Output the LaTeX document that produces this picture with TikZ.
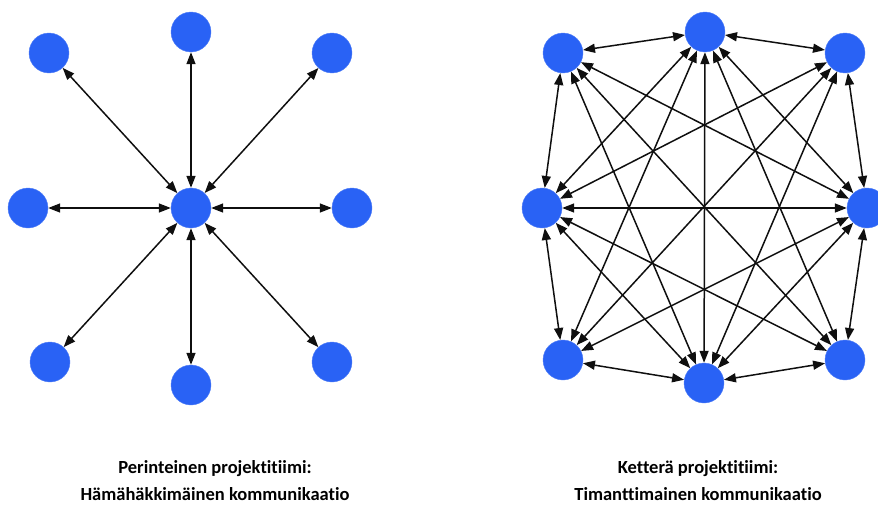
\documentclass[tikz,border=0pt]{standalone}
\usepackage{fontspec}
\setmainfont{Carlito}[Ligatures=NoCommon]
\usetikzlibrary{arrows.meta}
\definecolor{nodeblue}{RGB}{41,98,245}
\definecolor{edgeblack}{RGB}{15,15,15}
\tikzset{
  person/.style={circle, fill=nodeblue, draw=nodeblue!80!white, line width=0.4pt, minimum size=40pt, inner sep=0pt},
  link/.style={edgeblack, line width=1.5pt, {Triangle[length=12pt,width=9pt]}-{Triangle[length=12pt,width=9pt]}},
  caption/.style={font=\fontsize{18.5}{27}\selectfont\bfseries, align=center, text=black}
}
\begin{document}
\begin{tikzpicture}[x=1pt,y=-1pt]
\useasboundingbox (0,0) rectangle (878,522);
% left: spider
\node[person] (c) at (191,208) {};
\node[person] (lt) at (191,32) {};
\node[person] (ltl) at (49,53) {};
\node[person] (ltr) at (332,53) {};
\node[person] (ll) at (28,208) {};
\node[person] (lr) at (352,208) {};
\node[person] (lbl) at (50,362) {};
\node[person] (lb) at (191,385) {};
\node[person] (lbr) at (332,362) {};
\foreach \n in {lt,ltl,ltr,ll,lr,lbl,lb,lbr} \draw[link] (c) -- (\n);
% right: diamond
\node[person] (r1) at (705,32) {};
\node[person] (r2) at (845,53) {};
\node[person] (r3) at (867,208) {};
\node[person] (r4) at (845,360) {};
\node[person] (r5) at (704,383) {};
\node[person] (r6) at (563,360) {};
\node[person] (r7) at (542,208) {};
\node[person] (r8) at (563,53) {};
\foreach \a/\b in {r1/r2,r1/r3,r1/r4,r1/r5,r1/r6,r1/r7,r1/r8,
                   r2/r3,r2/r5,r2/r6,r2/r7,
                   r3/r4,r3/r5,r3/r6,r3/r7,r3/r8,
                   r4/r5,r4/r7,r4/r8,
                   r5/r6,r5/r7,r5/r8,
                   r6/r7,
                   r7/r8}
  \draw[link] (\a) -- (\b);
% captions
\node[caption] (capl) at (215,481) {Perinteinen projektitiimi:\\Hämähäkkimäinen kommunikaatio};
\node[caption] (capr) at (698,481) {Ketterä projektitiimi:\\Timanttimainen kommunikaatio};
\end{tikzpicture}
\end{document}
